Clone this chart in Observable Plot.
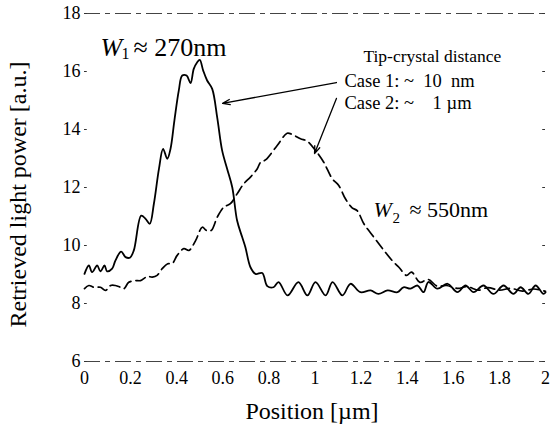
<!DOCTYPE html>
<html>
<head>
<meta charset="utf-8">
<script src="https://cdn.jsdelivr.net/npm/d3@7"></script>
<script src="https://cdn.jsdelivr.net/npm/@observablehq/plot@0.6"></script>
<style>
  html, body { margin: 0; padding: 0; background: #fff; }
  #chart { width: 552px; height: 430px; }
  #chart svg, #chart svg text { font-family: "Liberation Serif", "Times New Roman", serif !important; }
</style>
</head>
<body>
<div id="chart"></div>
<script>
// ---- data ----
const xTicks = [0, 0.2, 0.4, 0.6, 0.8, 1, 1.2, 1.4, 1.6, 1.8, 2];
const xTickLabels = ["0", "0.2", "0.4", "0.6", "0.8", "1", "1.2", "1.4", "1.6", "1.8", "2"];
const yTicks = [6, 8, 10, 12, 14, 16, 18];
const yTickLabels = ["6", "8", "10", "12", "14", "16", "18"];

const xLabel = "Position [µm]";
const yLabel = "Retrieved light power [a.u.]";

// Case 1 (solid, tip-crystal distance ~10 nm)
const case1X = [0, 0.019, 0.033, 0.055, 0.069, 0.087, 0.098, 0.12, 0.134, 0.159, 0.178, 0.197, 0.214, 0.246, 0.265, 0.283, 0.301, 0.323, 0.341, 0.359, 0.373, 0.39, 0.409, 0.424, 0.443, 0.46, 0.474, 0.489, 0.5, 0.515, 0.532, 0.554, 0.576, 0.597, 0.619, 0.641, 0.662, 0.684, 0.698, 0.72, 0.742, 0.771, 0.793, 0.82, 0.842, 0.881, 0.928, 0.967, 1.002, 1.046, 1.076, 1.119, 1.154, 1.197, 1.241, 1.275, 1.315, 1.358, 1.384, 1.414, 1.445, 1.471, 1.492, 1.531, 1.575, 1.618, 1.653, 1.688, 1.731, 1.774, 1.818, 1.861, 1.892, 1.926, 1.957, 1.991, 2.0];
const case1Y = [9.02, 9.31, 9.08, 9.31, 9.11, 9.31, 9.11, 9.2, 9.48, 9.79, 9.6, 9.58, 9.83, 11.03, 10.92, 10.75, 11.44, 12.64, 13.33, 12.99, 13.33, 14.31, 15.34, 15.86, 15.86, 15.6, 16.09, 16.32, 16.4, 16.03, 15.69, 15.4, 14.4, 13.28, 12.64, 12.01, 10.86, 10.29, 9.94, 9.25, 9.02, 9.05, 8.6, 8.56, 8.74, 8.28, 8.74, 8.28, 8.74, 8.28, 8.74, 8.28, 8.68, 8.39, 8.45, 8.33, 8.45, 8.39, 8.56, 8.51, 8.62, 8.39, 8.74, 8.51, 8.68, 8.39, 8.62, 8.39, 8.62, 8.33, 8.62, 8.33, 8.56, 8.33, 8.62, 8.33, 8.38];

// Case 2 (dashed, tip-crystal distance ~1 µm)
const case2X = [0, 0.019, 0.04, 0.069, 0.091, 0.113, 0.134, 0.156, 0.171, 0.192, 0.221, 0.243, 0.272, 0.294, 0.315, 0.337, 0.361, 0.38, 0.402, 0.431, 0.453, 0.482, 0.511, 0.529, 0.55, 0.576, 0.604, 0.633, 0.662, 0.691, 0.72, 0.749, 0.764, 0.785, 0.836, 0.879, 0.901, 0.937, 0.966, 1.002, 1.038, 1.075, 1.103, 1.132, 1.161, 1.183, 1.212, 1.255, 1.299, 1.335, 1.364, 1.397, 1.419, 1.455, 1.491, 1.53, 1.57, 1.62, 1.66, 1.71, 1.75, 1.8, 1.85, 1.9, 1.95, 2.0];
const case2Y = [8.51, 8.62, 8.56, 8.56, 8.45, 8.62, 8.62, 8.56, 8.51, 8.73, 8.79, 8.79, 8.93, 8.91, 8.97, 9.2, 9.37, 9.37, 9.66, 9.89, 9.83, 10.17, 10.63, 10.52, 10.52, 10.98, 11.32, 11.44, 11.78, 12.13, 12.36, 12.64, 12.87, 12.95, 13.45, 13.87, 13.83, 13.68, 13.6, 13.28, 12.87, 12.3, 12.07, 11.61, 11.3, 11.2, 10.75, 10.29, 9.83, 9.48, 9.25, 8.97, 9.08, 8.73, 8.83, 8.6, 8.62, 8.52, 8.58, 8.46, 8.55, 8.46, 8.52, 8.43, 8.5, 8.42];

// annotation texts (anchored in data coordinates)
const legendTitle = "Tip-crystal distance";
const caseLabels = ["Case 1: ~\u00a0 10\u00a0 nm", "Case 2: ~\u00a0\u00a0\u00a0 1 µm"];
const caseLabelX = [1.128, 1.128];
const caseLabelY = [15.48, 14.71];
const legendTitleX = 1.21, legendTitleY = 16.32;
const widthLabels = [
  {name: "W", sub: "1", rest: "≈ 270nm", x: 0.069, y: 16.55, size: 26},
  {name: "W", sub: "2", rest: "≈ 550nm", x: 1.254, y: 11.0, size: 22}
];
// arrows from the legend to each curve
const arrows = [
  {x1: 1.093, y1: 15.62, x2: 0.599, y2: 14.9},
  {x1: 1.093, y1: 15.07, x2: 0.998, y2: 13.17}
];

// ---- build tables ----
const case1 = case1X.map((x, i) => ({x, y: case1Y[i]}));
const case2 = case2X.map((x, i) => ({x, y: case2Y[i]}));
const caseRows = caseLabels.map((t, i) => ({t, x: caseLabelX[i], y: caseLabelY[i]}));

const serif = "Liberation Serif";

const chart = Plot.plot({
  width: 552,
  height: 430,
  marginLeft: 84,
  marginRight: 7,
  marginTop: 13,
  marginBottom: 69,
  style: {fontFamily: serif, fontSize: "18px", color: "#000", background: "#fff"},
  x: {domain: [0, 2]},
  y: {domain: [6, 18]},
  marks: [
    Plot.axisX({ticks: xTicks, tickFormat: (d, i) => xTickLabels[i], tickSize: 0, tickPadding: 10, fontSize: 18, fontFamily: serif, fontVariant: "normal", label: null}),
    Plot.axisY({ticks: yTicks, tickFormat: (d, i) => yTickLabels[i], tickSize: 0, tickPadding: 4, fontSize: 18, fontFamily: serif, fontVariant: "normal", label: null}),
    // frame lines (top & bottom) and small inward ticks at left/right
    Plot.ruleY([yTicks[0], yTicks[yTicks.length - 1]], {stroke: "#444", strokeWidth: 1, strokeDasharray: "16,5,5,5"}),
    Plot.ruleY(yTicks, {x1: 0, x2: 0.012, stroke: "#333", strokeWidth: 1}),
    Plot.ruleY(yTicks, {x1: 1.988, x2: 2, stroke: "#333", strokeWidth: 1}),
    // curves
    Plot.line(case2, {x: "x", y: "y", stroke: "#000", strokeWidth: 1.7, strokeDasharray: "10,5", curve: "catmull-rom"}),
    Plot.line(case1, {x: "x", y: "y", stroke: "#000", strokeWidth: 1.8, curve: "catmull-rom"}),
    // arrows
    Plot.arrow(arrows, {x1: "x1", y1: "y1", x2: "x2", y2: "y2", stroke: "#000", strokeWidth: 1.3, headLength: 9, headAngle: 40, insetEnd: 0}),
    // legend text
    Plot.text([legendTitle], {x: legendTitleX, y: legendTitleY, text: d => d, textAnchor: "start", lineAnchor: "bottom", fontSize: 17.5, fontFamily: serif}),
    Plot.text(caseRows, {x: "x", y: "y", text: "t", textAnchor: "start", lineAnchor: "bottom", fontSize: 18.5, fontFamily: serif}),
    // W labels
    Plot.text(widthLabels, {x: "x", y: "y", text: "name", textAnchor: "start", lineAnchor: "bottom", fontStyle: "italic", fontSize: d => d.size, fontFamily: serif}),
    Plot.text(widthLabels.slice(0, 1), {x: "x", y: "y", text: "sub", textAnchor: "start", lineAnchor: "bottom", fontSize: 16, dx: 21, dy: 3, fontFamily: serif}),
    Plot.text(widthLabels.slice(0, 1), {x: "x", y: "y", text: "rest", textAnchor: "start", lineAnchor: "bottom", fontSize: 26, dx: 33, fontFamily: serif}),
    Plot.text(widthLabels.slice(1), {x: "x", y: "y", text: "sub", textAnchor: "start", lineAnchor: "bottom", fontSize: 15, dx: 19, dy: 6, fontFamily: serif}),
    Plot.text(widthLabels.slice(1), {x: "x", y: "y", text: "rest", textAnchor: "start", lineAnchor: "bottom", fontSize: 22, dx: 36, fontFamily: serif}),
    // axis titles
    Plot.text([yLabel], {frameAnchor: "left", text: d => d, rotate: -90, textAnchor: "middle", lineAnchor: "bottom", dx: -59, dy: 7, fontSize: 24, fontFamily: serif}),
    Plot.text([xLabel], {frameAnchor: "bottom", text: d => d, textAnchor: "middle", lineAnchor: "bottom", dx: -3, dy: 57, fontSize: 24, fontFamily: serif})
  ]
});
document.getElementById("chart").appendChild(chart);
</script>
</body>
</html>
